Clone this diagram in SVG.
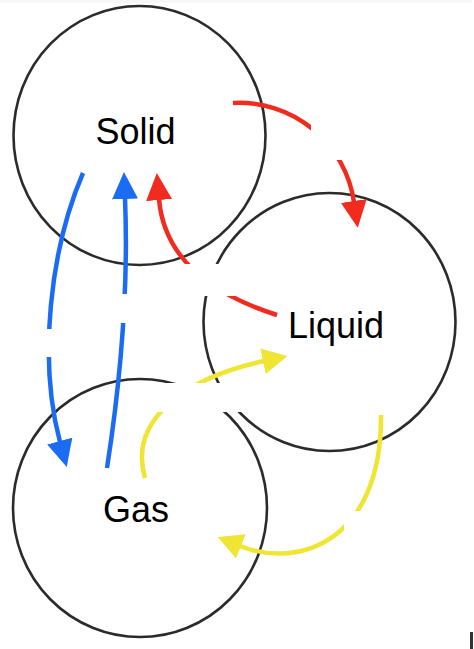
<svg xmlns="http://www.w3.org/2000/svg" width="474" height="649" viewBox="0 0 474 649">
  <defs>
    <style>
      .circle { fill: none; stroke: #2b2b2b; stroke-width: 2.6; }
      .label { font-family: "Liberation Sans", Arial, Helvetica, sans-serif; font-size: 36px; fill: #000; text-anchor: middle; }
      .conn { fill: none; stroke-width: 4.5; stroke-linecap: butt; }
      .red { stroke: #f12c1f; }
      .blue { stroke: #1b6cf2; }
      .yellow { stroke: #efe532; }
      .mask { fill: #ffffff; stroke: none; }
    </style>
    <marker id="ah-red" markerUnits="userSpaceOnUse" markerWidth="30" markerHeight="30" refX="1" refY="13" orient="auto" viewBox="0 0 30 30">
      <path d="M0,0 L27,13 L0,26 Z" fill="#f12c1f"/>
    </marker>
    <marker id="ah-blue" markerUnits="userSpaceOnUse" markerWidth="30" markerHeight="30" refX="1" refY="13" orient="auto" viewBox="0 0 30 30">
      <path d="M0,0 L27,13 L0,26 Z" fill="#1b6cf2"/>
    </marker>
    <marker id="ah-yellow" markerUnits="userSpaceOnUse" markerWidth="30" markerHeight="30" refX="1" refY="13" orient="auto" viewBox="0 0 30 30">
      <path d="M0,0 L25,13 L0,26 Z" fill="#efe532"/>
    </marker>
  </defs>

  <rect x="0" y="0" width="474" height="649" fill="#ffffff"/>
  <rect x="0" y="0" width="472" height="3" fill="#f7f7f7"/>

  <g id="node-solid">
    <ellipse class="circle" cx="139.5" cy="135.5" rx="126" ry="129.5"/>
  </g>
  <g id="node-liquid">
    <ellipse class="circle" cx="329.5" cy="322" rx="126" ry="129"/>
  </g>
  <g id="node-gas">
    <ellipse class="circle" cx="140" cy="508" rx="127" ry="129"/>
  </g>

  <g id="connectors">
    <path id="solid-to-liquid" class="conn red" d="M233,103 A116,116 0 0 1 354,202" marker-end="url(#ah-red)"/>
    <path id="liquid-to-solid" class="conn red" d="M277,315 C230,300 165,270 159,199" marker-end="url(#ah-red)"/>
    <path id="solid-to-gas" class="conn blue" d="M83,173 C50,250 38,360 60,442" marker-end="url(#ah-blue)"/>
    <path id="gas-to-solid" class="conn blue" d="M107,468 Q130,320 125,198" marker-end="url(#ah-blue)"/>
    <path id="gas-to-liquid" class="conn yellow" d="M145,478 C128,420 185,378 264,361" marker-end="url(#ah-yellow)"/>
    <path id="liquid-to-gas" class="conn yellow" d="M381,415 C382,540 300,570 240,546" marker-end="url(#ah-yellow)"/>
  </g>

  <g id="gaps">
    <rect class="mask" x="311" y="90" width="80" height="70"/>
    <rect class="mask" x="165" y="264" width="70" height="32"/>
    <rect class="mask" x="110" y="294" width="30" height="29"/>
    <rect class="mask" x="30" y="329" width="32" height="28"/>
    <rect class="mask" x="145" y="383" width="100" height="29"/>
    <rect class="mask" x="344" y="511" width="56" height="59"/>
  </g>

  <g id="labels">
    <text class="label" x="135.5" y="144">Solid</text>
    <text class="label" x="336" y="337.5">Liquid</text>
    <text class="label" x="136" y="522">Gas</text>
  </g>

  <rect x="470" y="632" width="3" height="17" fill="#333333"/>
</svg>
